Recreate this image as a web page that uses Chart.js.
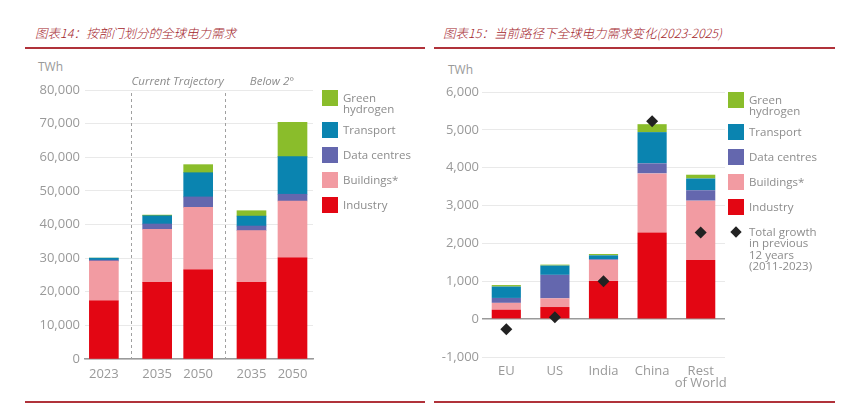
<!DOCTYPE html>
<html>
<head>
<meta charset="utf-8">
<script src="https://cdn.jsdelivr.net/npm/chart.js@4.4.1/dist/chart.umd.min.js"></script>
<style>
  body { margin: 0; width: 859px; height: 406px; background: #fff; position: relative; overflow: hidden; font-family: "Open Sans", sans-serif; }
  .title { position: absolute; top: 25px; line-height: 16px; font-size: 12.5px; font-style: italic; font-weight: 300; color: #a3242b; font-family: "Noto Sans CJK SC", sans-serif; white-space: nowrap; }
  .rule { position: absolute; height: 1.5px; background: #b0323a; }
  .unit { position: absolute; font-size: 12px; color: #999; line-height: 14px; }
  .chartBox { position: absolute; top: 0; height: 406px; }
  .legend { position: absolute; font-size: 11.5px; color: #8c8c8c; }
  .legend .row { display: flex; align-items: flex-start; margin-bottom: 9px; }
  .legend .box { width: 16px; height: 16px; flex: none; }
  .legend .txt { margin-left: 5px; line-height: 11.3px; margin-top: 2px; white-space: pre-line; }
  .legend .diamond { width: 16px; height: 16px; flex: none; position: relative; }
  .legend .diamond::after { content: ""; position: absolute; left: 3.5px; top: 3.5px; width: 8px; height: 8px; background: #222; transform: rotate(45deg); }
</style>
</head>
<body>
<div class="title" style="left:35px">图表14：按部门划分的全球电力需求</div>
<div class="rule" style="left:25px; width:400px; top:47px"></div>
<div class="title" style="left:443px">图表15：当前路径下全球电力需求变化(2023-2025)</div>
<div class="rule" style="left:434px; width:401px; top:47px"></div>
<div class="rule" style="left:25px; width:400px; top:401px"></div>
<div class="rule" style="left:434px; width:401px; top:401px"></div>
<div class="unit" style="left:38px; top:60px">TWh</div>
<div class="unit" style="left:448px; top:63px">TWh</div>

<div class="chartBox" style="left:0; width:430px"><canvas id="sectorChart" width="430" height="406"></canvas></div>
<div class="chartBox" style="left:430px; width:429px"><canvas id="regionChart" width="429" height="406"></canvas></div>
<div id="sectorLegend" class="legend" style="left:322px; top:90px"></div>
<div id="regionLegend" class="legend" style="left:728px; top:92px"></div>

<script>
// 부문 이름과 색 (아래에서 위 순서)
const sectorNames = ['Industry', 'Buildings*', 'Data centres', 'Transport', 'Green\nhydrogen']
const sectorColors = ['#e30613', '#f29ba2', '#6467ae', '#0a84b0', '#8abd2b']

// 왼쪽: 부문별 전력 수요 (TWh)
const yearLabels = ['2023', '2035', '2050', '2035', '2050']
const yearGroup = [0, 1, 1, 2, 2]
const groupNames = ['', 'Current Trajectory', 'Below 2°']
const industryTWh = [17300, 22800, 26500, 22800, 30100]
const buildingsTWh = [11800, 15800, 18600, 15400, 16900]
const dataCentresTWh = [300, 1550, 3100, 1350, 2000]
const transportTWh = [600, 2450, 7200, 2950, 11200]
const hydrogenTWh = [0, 200, 2400, 1600, 10200]
const sectorTicks = [0, 10000, 20000, 30000, 40000, 50000, 60000, 70000, 80000]

// 오른쪽: 지역별 변화 (TWh)
const regionLabels = ['EU', 'US', 'India', 'China', ['Rest', 'of World']]
const regionIndustry = [250, 320, 1010, 2290, 1565]
const regionBuildings = [180, 230, 555, 1560, 1565]
const regionDataCentres = [130, 620, 20, 265, 275]
const regionTransport = [300, 245, 100, 825, 310]
const regionHydrogen = [40, 25, 35, 210, 100]
const pastGrowth = [-270, 50, 1000, 5230, 2290]
const growthLabel = 'Total growth\nin previous\n12 years\n(2011-2023)'
const regionTicks = [-1000, 0, 1000, 2000, 3000, 4000, 5000, 6000]

const tickColor = '#999'
const gridColor = '#e9e9e9'
const fmt = v => v.toLocaleString('en-US')

// 그룹 사이 간격
const groupGap = 0.3
const positions = yearLabels.map((_, i) => i + yearGroup[i] * groupGap)

const groupMarks = {
    id: 'groupMarks',
    beforeDatasetsDraw(chart) {
        const {ctx, chartArea, scales: {x}} = chart
        ctx.save()
        ctx.strokeStyle = '#a0a0a0'
        ctx.lineWidth = 1
        ctx.setLineDash([3, 3])
        for (let i = 1; i < positions.length; i++) {
            if (yearGroup[i] !== yearGroup[i - 1]) {
                let px = Math.round(x.getPixelForValue((positions[i] + positions[i - 1]) / 2)) + 0.5
                ctx.beginPath()
                ctx.moveTo(px, chartArea.top + 3)
                ctx.lineTo(px, chartArea.bottom)
                ctx.stroke()
            }
        }
        ctx.font = 'italic 11.5px "Open Sans"'
        ctx.fillStyle = '#8c8c8c'
        ctx.textAlign = 'center'
        ctx.textBaseline = 'middle'
        groupNames.forEach((name, g) => {
            if (!name) return
            let ps = positions.filter((_, i) => yearGroup[i] === g)
            let cx = x.getPixelForValue((Math.min(...ps) + Math.max(...ps)) / 2)
            ctx.fillText(name, cx, chartArea.top - 8)
        })
        ctx.restore()
    }
}

const sectorSeries = [industryTWh, buildingsTWh, dataCentresTWh, transportTWh, hydrogenTWh]
new Chart(document.getElementById('sectorChart'), {
    type: 'bar',
    data: {
        datasets: sectorSeries.map((values, k) => ({
            label: sectorNames[k],
            data: values.map((v, i) => ({x: positions[i], y: v})),
            backgroundColor: sectorColors[k],
            barThickness: 29,
            stack: 'sectors'
        }))
    },
    options: {
        responsive: false,
        animation: false,
        layout: {padding: {left: 0, right: 117, top: 90, bottom: 22}},
        plugins: {legend: {display: false}, tooltip: {enabled: false}},
        scales: {
            x: {
                type: 'linear',
                offset: false,
                min: -0.46,
                max: 5.1,
                stacked: true,
                grid: {display: false, drawTicks: false},
                border: {color: '#9a9a9a', width: 1.5},
                afterBuildTicks: scale => { scale.ticks = positions.map(v => ({value: v})) },
                afterFit: scale => { scale.height = 25 },
                ticks: {
                    callback: (v, i) => yearLabels[i],
                    autoSkip: false, maxRotation: 0, padding: 7,
                    color: tickColor, font: {family: 'Open Sans', size: 13}
                }
            },
            y: {
                stacked: true,
                min: 0,
                max: 80000,
                grid: {color: gridColor, drawTicks: false},
                border: {display: false},
                afterBuildTicks: scale => { scale.ticks = sectorTicks.map(v => ({value: v})) },
                afterFit: scale => { scale.width = 85 },
                ticks: {
                    callback: v => fmt(v), padding: 5,
                    color: tickColor, font: {family: 'Open Sans', size: 13}
                }
            }
        }
    },
    plugins: [groupMarks]
})

const regionSeries = [regionIndustry, regionBuildings, regionDataCentres, regionTransport, regionHydrogen]
const regionDatasets = regionSeries.map((values, k) => ({
    type: 'bar',
    label: sectorNames[k],
    data: values,
    backgroundColor: sectorColors[k],
    categoryPercentage: 1,
    barPercentage: 0.6,
    stack: 'sectors'
}))
regionDatasets.push({
    type: 'line',
    label: growthLabel,
    data: pastGrowth,
    showLine: false,
    pointStyle: 'rectRot',
    pointRadius: 6,
    backgroundColor: '#222',
    borderColor: '#222',
    borderWidth: 0,
    stack: 'growth',
    order: -1
})

new Chart(document.getElementById('regionChart'), {
    type: 'bar',
    data: {labels: regionLabels, datasets: regionDatasets},
    options: {
        responsive: false,
        animation: false,
        layout: {padding: {left: 0, right: 134, top: 92, bottom: 19}},
        plugins: {legend: {display: false}, tooltip: {enabled: false}},
        scales: {
            x: {
                stacked: true,
                grid: {display: false, drawTicks: false},
                border: {display: false},
                afterFit: scale => { scale.height = 30 },
                ticks: {
                    padding: 8, maxRotation: 0, autoSkip: false,
                    color: tickColor, font: {family: 'Open Sans', size: 13, lineHeight: 0.95}
                }
            },
            y: {
                stacked: true,
                min: -1000,
                max: 6000,
                grid: {
                    color: ctx => ctx.tick && ctx.tick.value === 0 ? '#9a9a9a' : gridColor,
                    lineWidth: ctx => ctx.tick && ctx.tick.value === 0 ? 1.5 : 1,
                    drawTicks: false
                },
                border: {display: false},
                afterBuildTicks: scale => { scale.ticks = regionTicks.map(v => ({value: v})) },
                afterFit: scale => { scale.width = 52 },
                ticks: {
                    callback: v => fmt(v), padding: 3,
                    color: tickColor, font: {family: 'Open Sans', size: 13}
                }
            }
        }
    }
})

// 범례 (위에서 아래로)
const buildLegend = (elemId, withGrowth) => {
    let legendElem = document.getElementById(elemId)
    for (let k = sectorNames.length - 1; k >= 0; k--) {
        let row = document.createElement('div')
        row.className = 'row'
        if (sectorNames[k].includes('\n')) row.style.height = '23px'
        let box = document.createElement('div')
        box.className = 'box'
        box.style.background = sectorColors[k]
        let txt = document.createElement('div')
        txt.className = 'txt'
        txt.innerText = sectorNames[k]
        row.append(box)
        row.append(txt)
        legendElem.append(row)
    }
    if (withGrowth) {
        let row = document.createElement('div')
        row.className = 'row'
        let mark = document.createElement('div')
        mark.className = 'diamond'
        let txt = document.createElement('div')
        txt.className = 'txt'
        txt.innerText = growthLabel
        row.append(mark)
        row.append(txt)
        legendElem.append(row)
    }
}
buildLegend('sectorLegend', false)
buildLegend('regionLegend', true)
</script>
</body>
</html>
